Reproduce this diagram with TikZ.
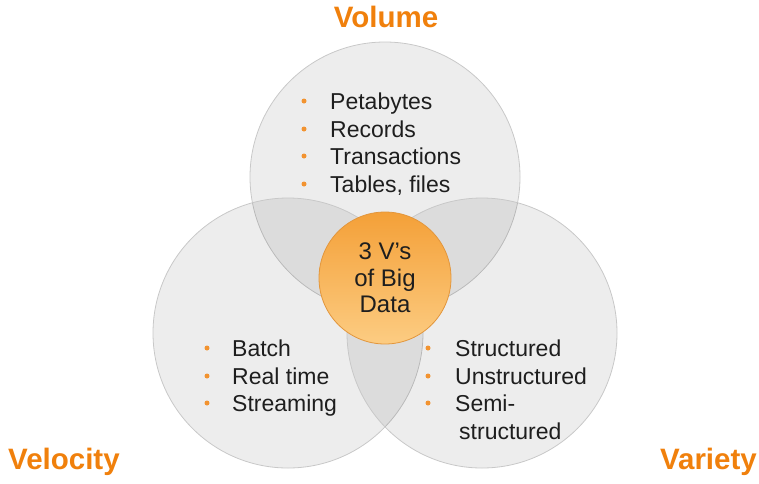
\documentclass[tikz,border=0pt]{standalone}
\usepackage{fontspec}
\setmainfont{Liberation Sans}
\definecolor{vorange}{RGB}{240,128,12}
\definecolor{vtext}{RGB}{30,30,30}
\definecolor{vedge}{RGB}{200,200,200}
\definecolor{otop}{RGB}{244,160,56}
\definecolor{obot}{RGB}{252,204,130}
\definecolor{oedge}{RGB}{226,150,60}
\begin{document}
\begin{tikzpicture}[x=1pt,y=-1pt,
  vcircle/.style={circle,draw=vedge,line width=0.8pt,fill=black,fill opacity=0.07,draw opacity=1,minimum size=270pt,inner sep=0pt},
  vtitle/.style={text=vorange,font=\fontsize{29.5}{32}\selectfont\bfseries,inner sep=0pt,anchor=base},
  vitem/.style={text=vtext,font=\fontsize{23}{26}\selectfont,anchor=base west,inner sep=0pt},
  vdot/.style={circle,fill=vorange!85,inner sep=0pt,minimum size=5pt},
  hub/.style={circle,draw=oedge,line width=0.8pt,top color=otop,bottom color=obot,minimum size=132pt,inner sep=0pt,align=center,text=vtext,font=\fontsize{24}{26.5}\selectfont}]
\useasboundingbox (0,0) rectangle (759,483);
\node[vcircle] (vol) at (385,177) {};
\node[vcircle] (vel) at (288,333) {};
\node[vcircle] (var) at (482,333) {};
\node[hub] (hub) at (385,278) {3 V's\\of Big\\Data};
\node[vtitle] (tvol) at (386,27) {Volume};
\node[vtitle,anchor=base west] (tvel) at (8,469) {Velocity};
\node[vtitle,anchor=base east] (tvar) at (757,469) {Variety};
% Volume items
\node[vdot] (d1) at (304,101) {};
\node[vitem] (i1) at (330,109) {Petabytes};
\node[vdot] (d2) at (304,129) {};
\node[vitem] (i2) at (330,137) {Records};
\node[vdot] (d3) at (304,156) {};
\node[vitem] (i3) at (330,164) {Transactions};
\node[vdot] (d4) at (304,184) {};
\node[vitem] (i4) at (330,192) {Tables, files};
% Velocity items
\node[vdot] (d5) at (207,348) {};
\node[vitem] (i5) at (232,356) {Batch};
\node[vdot] (d6) at (207,376) {};
\node[vitem] (i6) at (232,384) {Real time};
\node[vdot] (d7) at (207,403) {};
\node[vitem] (i7) at (232,411) {Streaming};
% Variety items
\node[vdot] (d8) at (428,348) {};
\node[vitem] (i8) at (455,356) {Structured};
\node[vdot] (d9) at (428,376) {};
\node[vitem] (i9) at (455,384) {Unstructured};
\node[vdot] (d10) at (428,403) {};
\node[vitem] (i10) at (455,411) {Semi-};
\node[vitem] (i11) at (459,439) {structured};
\end{tikzpicture}
\end{document}
